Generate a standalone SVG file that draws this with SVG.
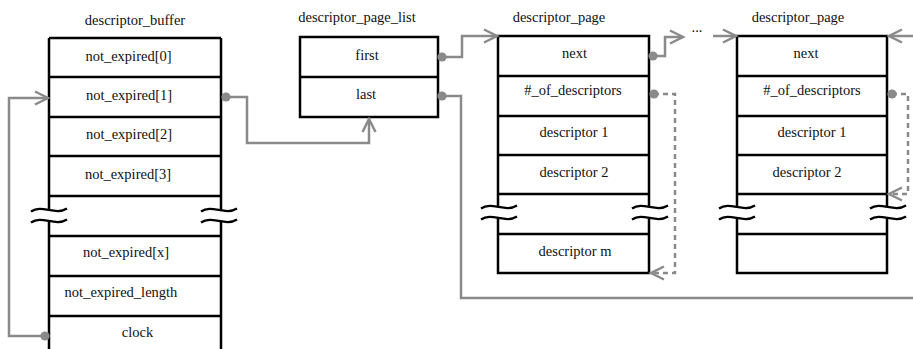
<svg xmlns="http://www.w3.org/2000/svg" xmlns:xlink="http://www.w3.org/1999/xlink" width="913" height="349" viewBox="0 0 913 349">
<style>
  text { font-family: "Liberation Serif", "Times New Roman", serif; font-size: 14.5px; fill: #111; text-anchor: middle; }
  .box { fill: #fff; stroke: #000; stroke-width: 2.5; }
  .ln { fill: none; stroke: #000; stroke-width: 2.5; }
  .conn { fill: none; stroke: #8a8a8a; stroke-width: 2.5; }
  .dash { stroke-dasharray: 5 4; }
  .wave { fill: none; stroke: #000; stroke-width: 2.3; }
</style>
<defs>
  <marker id="arr" markerUnits="userSpaceOnUse" viewBox="-14 -8 16 16" refX="0" refY="0" markerWidth="16" markerHeight="16" orient="auto" overflow="visible">
    <path d="M-13,-6.5 L0,0 L-13,6.5" fill="none" stroke="#8a8a8a" stroke-width="2.5"/>
  </marker>
  <marker id="dot" markerUnits="userSpaceOnUse" viewBox="-5 -5 10 10" refX="0" refY="0" markerWidth="10" markerHeight="10" overflow="visible">
    <circle r="4.6" fill="#8a8a8a"/>
  </marker>
  <g id="brk">
    <rect x="-5" y="0" width="10" height="11" fill="#fff"/>
    <path class="wave" d="M-18,1.5 C-7,-6 6,6 18,-1.5"/>
    <path class="wave" d="M-18,12.5 C-7,5 6,17 18,9.5"/>
  </g>
</defs>

<g id="descriptor_buffer">
  <text x="135" y="25">descriptor_buffer</text>
  <path class="ln" d="M49,38 H221 M49,77 H221 M49,117 H221 M49,156 H221 M49,196 H221 M49,236 H221 M49,276 H221 M49,316 H221 M49,38 V352 M221,38 V352"/>
  <use xlink:href="#brk" x="49" y="210"/>
  <use xlink:href="#brk" x="219" y="210"/>
  <text x="128.5" y="61">not_expired[0]</text>
  <text x="129" y="100">not_expired[1]</text>
  <text x="129" y="139">not_expired[2]</text>
  <text x="128" y="179">not_expired[3]</text>
  <text x="126" y="257">not_expired[x]</text>
  <text x="121" y="297">not_expired_length</text>
  <text x="137.5" y="337">clock</text>
</g>

<g id="descriptor_page_list">
  <text x="357" y="22">descriptor_page_list</text>
  <rect class="box" x="300" y="37" width="138" height="80"/>
  <path class="ln" d="M300,77 H438"/>
  <text x="367" y="60">first</text>
  <text x="366" y="99">last</text>
</g>

<g id="descriptor_page_1">
  <text x="559" y="22">descriptor_page</text>
  <rect class="box" x="498" y="36" width="151" height="237"/>
  <path class="ln" d="M498,76 H649 M498,116 H649 M498,155 H649 M498,194 H649 M498,234 H649"/>
  <use xlink:href="#brk" x="499" y="207"/>
  <use xlink:href="#brk" x="650" y="207"/>
  <text x="574.5" y="58">next</text>
  <text x="573" y="95">#_of_descriptors</text>
  <text x="574" y="137">descriptor 1</text>
  <text x="574" y="177">descriptor 2</text>
  <text x="575" y="256">descriptor m</text>
</g>

<g id="descriptor_page_2">
  <text x="798" y="22">descriptor_page</text>
  <rect class="box" x="737" y="36" width="150" height="237"/>
  <path class="ln" d="M737,76 H887 M737,116 H887 M737,155 H887 M737,194 H887 M737,234 H887"/>
  <use xlink:href="#brk" x="737" y="207"/>
  <use xlink:href="#brk" x="888" y="207"/>
  <text x="806" y="58">next</text>
  <text x="812" y="95">#_of_descriptors</text>
  <text x="812" y="137">descriptor 1</text>
  <text x="807" y="177">descriptor 2</text>
</g>

<g id="ellipsis">
  <text x="697" y="32">...</text>
</g>

<g id="connectors">
  <path class="conn" d="M226,97 H247 V143 H369 V119" marker-start="url(#dot)" marker-end="url(#arr)"/>
  <path class="conn" d="M45,336 H9 V98 H48" marker-start="url(#dot)" marker-end="url(#arr)"/>
  <path class="conn" d="M442,57 H462 V36 H497" marker-start="url(#dot)" marker-end="url(#arr)"/>
  <path class="conn" d="M442,96 H461 V298 H913" marker-start="url(#dot)"/>
  <path class="conn" d="M913,36 H889" marker-end="url(#arr)"/>
  <path class="conn" d="M653,56 H665 V37 H683" marker-start="url(#dot)" marker-end="url(#arr)"/>
  <path class="conn" d="M713,36 H736" marker-end="url(#arr)"/>
  <path class="conn dash" d="M654,94 H675 V273 H651" marker-start="url(#dot)" marker-end="url(#arr)"/>
  <path class="conn dash" d="M892,94 H908 V194 H889" marker-start="url(#dot)" marker-end="url(#arr)"/>
</g>
</svg>
